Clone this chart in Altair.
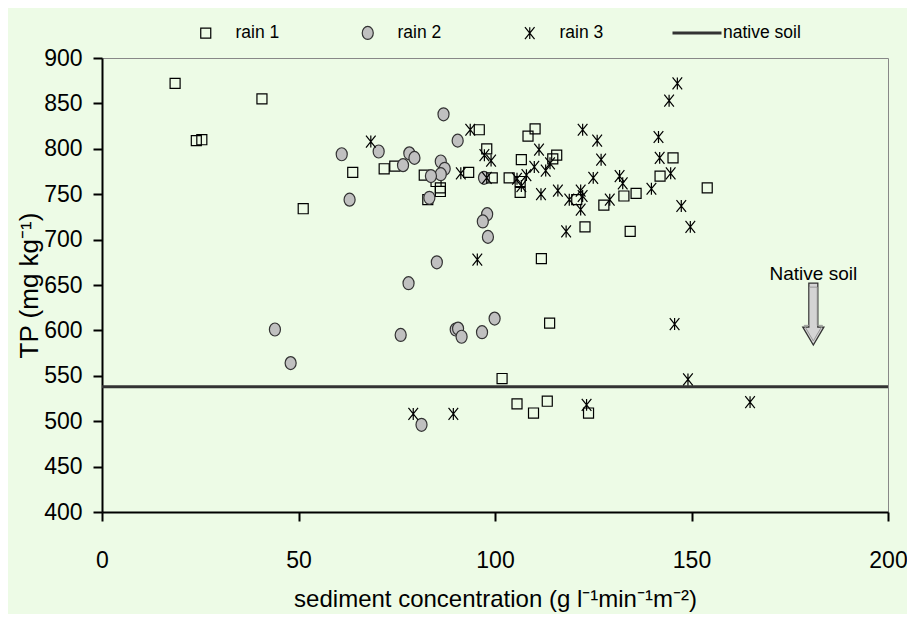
import altair as alt
import pandas as pd

FONT = "Liberation Sans, Arial, sans-serif"

# ---- data ----
series_names = ["rain 1", "rain 2", "rain 3", "native soil"]

rain1_x = [18.6, 40.7, 24.0, 25.4, 63.8, 51.2, 71.8, 74.5, 82.0, 85.0, 86.1, 86.1, 82.9, 93.3,
           96.0, 97.9, 99.3, 103.6, 106.7, 106.4, 106.4, 110.2, 108.4, 115.7, 114.7, 120.8,
           122.9, 127.7, 132.8, 135.9, 134.4, 142.0, 145.3, 154.0, 111.8, 113.9, 101.8, 105.6,
           109.8, 113.3, 123.8]
rain1_y = [872, 855, 809, 810, 774, 734, 778, 781, 771, 764, 757, 753, 744, 774,
           821, 800, 768, 768, 788, 764, 752, 822, 814, 793, 789, 744,
           714, 738, 748, 751, 709, 770, 790, 757, 679, 608, 547, 519,
           509, 522, 509]

rain2_x = [61.0, 70.4, 63.0, 86.9, 90.5, 78.2, 79.5, 76.6, 86.2, 87.2, 86.2, 83.7, 83.3, 97.2,
           98.0, 96.9, 98.2, 85.2, 78.0, 44.0, 48.0, 76.0, 90.0, 90.6, 91.5, 96.7, 99.9, 81.3]
rain2_y = [794, 797, 744, 838, 809, 795, 790, 782, 786, 778, 772, 770, 746, 768,
           728, 720, 703, 675, 652, 601, 564, 595, 601, 602, 593, 598, 613, 496]

rain3_x = [68.4, 146.4, 144.3, 93.7, 122.3, 126.0, 141.6, 111.2, 97.3, 99.0, 114.0, 110.0, 112.9,
           127.0, 141.9, 144.7, 139.8, 147.4, 149.7, 125.0, 131.7, 132.5, 129.2, 121.8, 122.3,
           118.9, 121.8, 116.0, 111.7, 118.1, 95.5, 91.3, 97.9, 108.0, 105.6, 106.7, 145.7,
           149.1, 123.3, 164.9, 79.2, 89.4]
rain3_y = [808, 872, 853, 821, 821, 809, 813, 799, 793, 787, 784, 780, 776,
           788, 790, 773, 756, 737, 714, 768, 770, 762, 744, 754, 748,
           744, 733, 754, 750, 709, 678, 773, 768, 771, 767, 759, 607,
           546, 518, 521, 508, 508]

native_soil_tp = 538

x_ticks = [0, 50, 100, 150, 200]
y_ticks = [400, 450, 500, 550, 600, 650, 700, 750, 800, 850, 900]

annotation_label = "Native soil"
annotation_x = 181
annotation_text_y = 662
annotation_arrow_y = 618

x_title = "sediment concentration (g l\u207b\u00b9min\u207b\u00b9m\u207b\u00b2)"
y_title = "TP (mg kg\u207b\u00b9)"

# ---- symbols (unit paths, all drawn at one symbol size) ----
SQUARE = "M-0.77,-0.77L0.77,-0.77L0.77,0.77L-0.77,0.77Z"
ELLIPSE = "M-0.85,0A0.85,1,0,1,0,0.85,0A0.85,1,0,1,0,-0.85,0Z"
ASTERISK = "M-0.74,-0.92L0.74,0.92M0.74,-0.92L-0.74,0.92M0,-0.92L0,0.92"
ARROW = "M-0.145,-1L0.145,-1L0.145,0.42L0.34,0.42L0,1L-0.34,0.42L-0.145,0.42Z"

rows = []
for name, xs, ys in [("rain 1", rain1_x, rain1_y), ("rain 2", rain2_x, rain2_y), ("rain 3", rain3_x, rain3_y)]:
    for a, b in zip(xs, ys):
        rows.append({"sc": a, "tp": b, "series": name})
points = pd.DataFrame(rows)
soil = pd.DataFrame({"tp": [native_soil_tp], "series": [series_names[3]]})
annot = pd.DataFrame({"sc": [annotation_x], "ty": [annotation_text_y], "ay": [annotation_arrow_y],
                      "label": [annotation_label]})

BG = "#edfbe6"

x_scale = alt.Scale(domain=[0, 200], nice=False, zero=False)
y_scale = alt.Scale(domain=[400, 900], nice=False, zero=False)

x_axis = alt.Axis(values=x_ticks, tickSize=9, tickWidth=2, tickColor="black", domainColor="black",
                  domainWidth=2, labelFontSize=23, labelFont=FONT, labelColor="black", labelPadding=28,
                  titleFontSize=24, titleFont=FONT, titleFontWeight="normal", titleColor="black",
                  titlePadding=15, grid=False, labelFlush=False, labelOverlap=False)
y_axis = alt.Axis(values=y_ticks, tickSize=9, tickWidth=2, tickColor="black", domainColor="black",
                  domainWidth=2, labelFontSize=23, labelFont=FONT, labelColor="black", labelPadding=11,
                  titleFontSize=26, titleFont=FONT, titleFontWeight="normal", titleColor="black",
                  titlePadding=1, grid=False, labelFlush=False, labelOverlap=False)


def X(field):
    return alt.X(field, type="quantitative", scale=x_scale, axis=x_axis, title=x_title)


def Y(field):
    return alt.Y(field, type="quantitative", scale=y_scale, axis=y_axis, title=y_title)


rain_dom = series_names[:3]
rain_leg = alt.Legend(title=None, orient="none", legendX=95, legendY=-34, direction="horizontal",
                      columns=3, gridAlign="all", columnPadding=79, labelOffset=21, labelFontSize=17.5,
                      labelFont=FONT, labelColor="black", labelLimit=200, symbolSize=169,
                      symbolStrokeWidth=1.2)
soil_leg = alt.Legend(title=None, orient="none", legendX=569, legendY=-51, direction="horizontal",
                      labelOffset=0, labelFontSize=17.5, labelFont=FONT, labelColor="black",
                      labelLimit=200, symbolType="stroke", symbolSize=2401, symbolStrokeWidth=2.8)

pts = alt.Chart(points).mark_point(filled=True, opacity=1, size=169, strokeWidth=1.2).encode(
    x=X("sc"),
    y=Y("tp"),
    shape=alt.Shape("series:N", scale=alt.Scale(domain=rain_dom, range=[SQUARE, ELLIPSE, ASTERISK]),
                    legend=rain_leg, sort=rain_dom),
    fill=alt.Fill("series:N", scale=alt.Scale(domain=rain_dom, range=["transparent", "#c0c0c0", "transparent"]),
                  legend=rain_leg, sort=rain_dom),
    stroke=alt.Stroke("series:N", scale=alt.Scale(domain=rain_dom, range=["#000000", "#333333", "#000000"]),
                      legend=rain_leg, sort=rain_dom),
)

rule = alt.Chart(soil).mark_rule(strokeWidth=3).encode(
    y=Y("tp"),
    color=alt.Color("series:N", scale=alt.Scale(domain=[series_names[3]], range=["#333333"]),
                    legend=soil_leg),
)

arrow = alt.Chart(annot).mark_point(shape=ARROW, size=3844, filled=True, fill="#d4d4d4",
                                    stroke="#333333", strokeWidth=1.3, opacity=1).encode(x=X("sc"), y=Y("ay"))
arrow_inner = alt.Chart(annot).mark_point(shape=ARROW, size=2900, filled=False, stroke="#999999",
                                          strokeWidth=1, opacity=1).encode(x=X("sc"), y=Y("ay"))

text = alt.Chart(annot).mark_text(font=FONT, fontSize=19, color="black", align="center",
                                  baseline="middle").encode(x=X("sc"), y=Y("ty"), text="label:N")

chart = alt.layer(rule, pts, arrow, arrow_inner, text).properties(
    width=786, height=454,
    autosize=alt.AutoSizeParams(type="none"),
    padding={"left": 94, "top": 50, "right": 19, "bottom": 102},
).configure(background=BG).configure_view(fill=BG, stroke="#888888", strokeWidth=1)

chart.save("out.html", embed_options={"renderer": "svg", "actions": False})
